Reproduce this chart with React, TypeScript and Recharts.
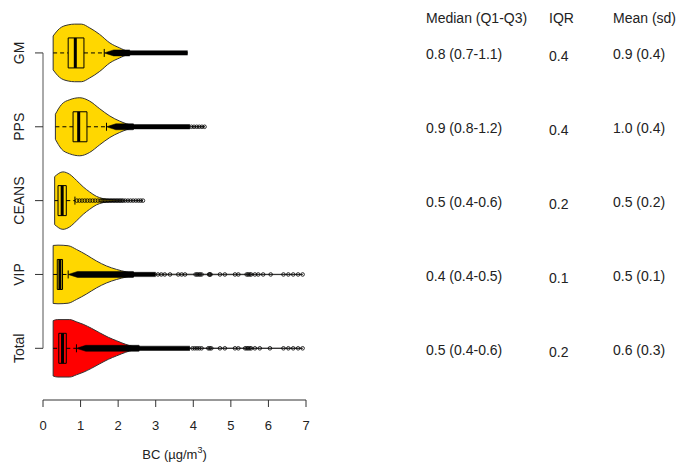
import { Area, ComposedChart, Label, ReferenceArea, ReferenceLine, Scatter, XAxis, YAxis } from 'recharts';

const categories = ['GM', 'PPS', 'CEANS', 'VIP', 'Total'];
const violinColors = ['#FFD700', '#FFD700', '#FFD700', '#FFD700', '#FF0000'];

// violin outlines: BC value and half-width (in category units)
const gmX = [0.27, 0.44, 0.67, 0.84, 1.02, 1.24, 1.51, 1.78, 2.04, 2.26, 2.6, 3.85];
const gmHalf = [0.23, 0.33, 0.38, 0.39, 0.39, 0.34, 0.25, 0.135, 0.068, 0.023, 0.007, 0.0015];
const ppsX = [0.33, 0.49, 0.71, 0.98, 1.24, 1.51, 1.78, 2.04, 2.4, 2.8, 4.31];
const ppsHalf = [0.17, 0.3, 0.366, 0.393, 0.348, 0.244, 0.145, 0.077, 0.018, 0.005, 0.0015];
const ceansX = [0.31, 0.53, 0.71, 0.89, 1.07, 1.24, 1.42, 1.6, 1.78, 2.1, 2.66];
const ceansHalf = [0.325, 0.389, 0.356, 0.275, 0.186, 0.118, 0.058, 0.027, 0.014, 0.005, 0.0015];
const vipX = [0.27, 0.4, 0.67, 0.89, 1.16, 1.42, 1.69, 1.96, 2.22, 2.4, 2.8, 6.91];
const vipHalf = [0.393, 0.397, 0.389, 0.339, 0.264, 0.183, 0.115, 0.068, 0.034, 0.014, 0.004, 0.0015];
const totalX = [0.27, 0.39, 0.71, 0.89, 1.07, 1.29, 1.51, 1.74, 1.96, 2.2, 2.4, 2.6, 2.9, 6.91];
const totalHalf = [0.375, 0.389, 0.389, 0.359, 0.325, 0.271, 0.21, 0.149, 0.102, 0.054, 0.023, 0.008, 0.003, 0.0015];

// boxplot stats
const q1 = [0.67, 0.8, 0.4, 0.38, 0.42];
const medians = [0.86, 0.95, 0.51, 0.45, 0.52];
const q3 = [1.09, 1.17, 0.62, 0.52, 0.62];
const whiskerLow = [0.27, 0.33, 0.31, 0.27, 0.27];
const whiskerHigh = [1.63, 1.69, 0.85, 0.67, 0.89];

// runs of outliers so dense they merge into a bar
const denseStart = [1.63, 1.69, null, 0.67, 0.89];
const denseThickEnd = [2.3, 2.4, null, 2.4, 2.55];
const denseEnd = [3.85, 3.91, null, 3.0, 3.91];

// separate outlier points
const gmOutliers: number[] = [];
const ppsOutliers = [3.95, 4.02, 4.09, 4.16, 4.23, 4.3];
const ceansOutliers = [
  0.9, 0.97, 1.04, 1.11, 1.18, 1.25, 1.32, 1.39, 1.46, 1.53, 1.57, 1.61, 1.65, 1.69, 1.73, 1.77, 1.81,
  1.85, 1.89, 1.93, 1.97, 2.01, 2.05, 2.09, 2.13, 2.19, 2.26, 2.33, 2.4, 2.47, 2.54, 2.6, 2.66,
];
const vipOutliers = [
  3.06, 3.15, 3.24, 3.38, 3.6, 3.69, 3.78, 4.06, 4.1, 4.14, 4.18, 4.22, 4.42, 4.44, 4.46, 4.71, 4.84,
  5.11, 5.2, 5.42, 5.46, 5.5, 5.54, 5.64, 5.73, 5.86, 6.06, 6.4, 6.53, 6.66, 6.79, 6.91,
];
const totalOutliers = [
  3.98, 4.04, 4.1, 4.16, 4.22, 4.4, 4.44, 4.48, 4.71, 4.84, 5.11, 5.2, 5.38, 5.42, 5.46, 5.5, 5.54,
  5.64, 5.77, 6.04, 6.4, 6.53, 6.66, 6.79, 6.91,
];

// summary table
const tableHeaders = ['Median (Q1-Q3)', 'IQR', 'Mean (sd)'];
const medianCol = ['0.8 (0.7-1.1)', '0.9 (0.8-1.2)', '0.5 (0.4-0.6)', '0.4 (0.4-0.5)', '0.5 (0.4-0.6)'];
const iqrCol = ['0.4', '0.4', '0.2', '0.1', '0.2'];
const meanCol = ['0.9 (0.4)', '1.0 (0.4)', '0.5 (0.2)', '0.5 (0.1)', '0.6 (0.3)'];

const xTicks = [0, 1, 2, 3, 4, 5, 6, 7];

const violinX = [gmX, ppsX, ceansX, vipX, totalX];
const violinHalf = [gmHalf, ppsHalf, ceansHalf, vipHalf, totalHalf];
const outliers = [gmOutliers, ppsOutliers, ceansOutliers, vipOutliers, totalOutliers];

const Y_MIN = -0.7;
const Y_MAX = 4.5;
const PLOT_H = 384;
const PX = (Y_MAX - Y_MIN) / PLOT_H;
const BOX = 15 * PX;
const STAPLE = 4 * PX;
const THICK = 3 * PX;
const THIN = 2.15 * PX;
const FONT = '"Liberation Sans", Arial, sans-serif';

const pos = (i: number) => categories.length - 1 - i;

const rowMap = new Map<number, any>();
const put = (x: number, key: string, v: number[]) => {
  if (!rowMap.has(x)) rowMap.set(x, { x });
  rowMap.get(x)[key] = v;
};
categories.forEach((_, i) => {
  const p = pos(i);
  violinX[i].forEach((x, j) => put(x, `v${i}`, [p - violinHalf[i][j], p + violinHalf[i][j]]));
  const s = denseStart[i];
  const t = denseThickEnd[i];
  const e = denseEnd[i];
  if (s != null && t != null && e != null) {
    put(s, `d${i}`, [p, p]);
    put(s + 0.25, `d${i}`, [p - THICK, p + THICK]);
    put(t, `d${i}`, [p - THICK, p + THICK]);
    put(t + 0.03, `d${i}`, [p - THIN, p + THIN]);
    put(e, `d${i}`, [p - THIN, p + THIN]);
  }
});
const chartData = [...rowMap.values()].sort((a, b) => a.x - b.x);

const CategoryTick = ({ x, y, payload }: any) => (
  <text
    transform={`translate(${x - 9},${y}) rotate(-90)`}
    textAnchor="middle"
    fontSize={14}
    fill="#222"
    fontFamily={FONT}
  >
    {categories[pos(payload.value)]}
  </text>
);

const TableTick = ({ x, y, payload }: any) => {
  const v = payload.value;
  const header = v > 4;
  const i = header ? 0 : pos(v);
  const cells = header ? tableHeaders : [medianCol[i], iqrCol[i], meanCol[i]];
  return (
    <g fontSize={14} fill="#222" fontFamily={FONT}>
      <text x={x + 120} y={y + 6.5}>{cells[0]}</text>
      <text x={x + 243} y={y + (header ? 6.5 : 8.5)}>{cells[1]}</text>
      <text x={x + 307} y={y + 6.5}>{cells[2]}</text>
    </g>
  );
};

const OutlierDot = ({ cx, cy }: any) => (
  <circle cx={cx} cy={cy} r={1.8} fill="none" stroke="#000" strokeWidth={0.8} />
);

export default function App() {
  return (
    <div style={{ position: 'absolute', left: 0, top: 0, width: 676, height: 466, background: '#fff', fontFamily: FONT }}>
      <ComposedChart
        width={676}
        height={466}
        data={chartData}
        margin={{ top: 16, right: 0, bottom: 26, left: 8 }}
      >
        <XAxis
          type="number"
          dataKey="x"
          domain={[0, 7]}
          ticks={xTicks}
          interval={0}
          allowDataOverflow
          height={40}
          tickSize={7}
          tickMargin={14}
          stroke="#333"
          tick={{ fontSize: 13, fill: '#222' }}
        >
          <Label
            content={({ viewBox }: any) => (
              <text
                x={viewBox.x + viewBox.width / 2}
                y={viewBox.y + 59}
                textAnchor="middle"
                fontSize={13}
                fill="#222"
                fontFamily={FONT}
              >
                BC (µg/m
                <tspan dy={-6} fontSize={9}>3</tspan>
                <tspan dy={6}>)</tspan>
              </text>
            )}
          />
        </XAxis>
        <YAxis
          type="number"
          domain={[Y_MIN, Y_MAX]}
          allowDataOverflow
          ticks={[0, 1, 2, 3, 4]}
          interval={0}
          width={35}
          axisLine={false}
          tickSize={8}
          tickLine={{ stroke: '#333' }}
          tick={<CategoryTick />}
        />
        <YAxis
          yAxisId="table"
          orientation="right"
          type="number"
          domain={[Y_MIN, Y_MAX]}
          allowDataOverflow
          ticks={[0, 1, 2, 3, 4, 4.5]}
          interval={0}
          width={370}
          axisLine={false}
          tickLine={false}
          tickSize={0}
          tickMargin={0}
          tick={<TableTick />}
        />

        {categories.map((c, i) => (
          <Area
            key={`v${c}`}
            dataKey={`v${i}`}
            type="monotone"
            stroke="#333"
            strokeWidth={1}
            fill={violinColors[i]}
            fillOpacity={1}
            connectNulls
            dot={false}
            activeDot={false}
            isAnimationActive={false}
          />
        ))}
        {categories.map((c, i) =>
          denseStart[i] == null ? null : (
            <Area
              key={`d${c}`}
              dataKey={`d${i}`}
              type="linear"
              stroke="#000"
              strokeWidth={0.5}
              fill="#000"
              fillOpacity={1}
              connectNulls
              dot={false}
              activeDot={false}
              isAnimationActive={false}
            />
          ),
        )}

        <ReferenceLine segment={[{ x: 0, y: 0 }, { x: 0, y: categories.length - 1 }]} stroke="#555" />

        {categories.map((c, i) => (
          <ReferenceLine
            key={`edge${c}`}
            segment={[
              { x: violinX[i][0], y: pos(i) - violinHalf[i][0] },
              { x: violinX[i][0], y: pos(i) + violinHalf[i][0] },
            ]}
            stroke="#333"
          />
        ))}
        {categories.map((c, i) => (
          <ReferenceLine
            key={`wl${c}`}
            segment={[{ x: whiskerLow[i], y: pos(i) }, { x: q1[i], y: pos(i) }]}
            stroke="#000"
            strokeDasharray="4 3"
          />
        ))}
        {categories.map((c, i) => (
          <ReferenceLine
            key={`wh${c}`}
            segment={[{ x: q3[i], y: pos(i) }, { x: whiskerHigh[i], y: pos(i) }]}
            stroke="#000"
            strokeDasharray="4 3"
          />
        ))}
        {categories.map((c, i) => (
          <ReferenceLine
            key={`st${c}`}
            segment={[{ x: whiskerHigh[i], y: pos(i) - STAPLE }, { x: whiskerHigh[i], y: pos(i) + STAPLE }]}
            stroke="#000"
          />
        ))}
        {categories.map((c, i) => (
          <ReferenceArea
            key={`box${c}`}
            x1={q1[i]}
            x2={q3[i]}
            y1={pos(i) - BOX}
            y2={pos(i) + BOX}
            fill="none"
            stroke="#000"
            strokeWidth={1}
          />
        ))}
        {categories.map((c, i) => (
          <ReferenceLine
            key={`med${c}`}
            segment={[{ x: medians[i], y: pos(i) - BOX }, { x: medians[i], y: pos(i) + BOX }]}
            stroke="#000"
            strokeWidth={3}
          />
        ))}

        {categories.map((c, i) =>
          outliers[i].length === 0 ? null : (
            <Scatter
              key={`o${c}`}
              data={outliers[i].map((x) => ({ x, y: pos(i) }))}
              dataKey="y"
              shape={<OutlierDot />}
              isAnimationActive={false}
            />
          ),
        )}
      </ComposedChart>
    </div>
  );
}
